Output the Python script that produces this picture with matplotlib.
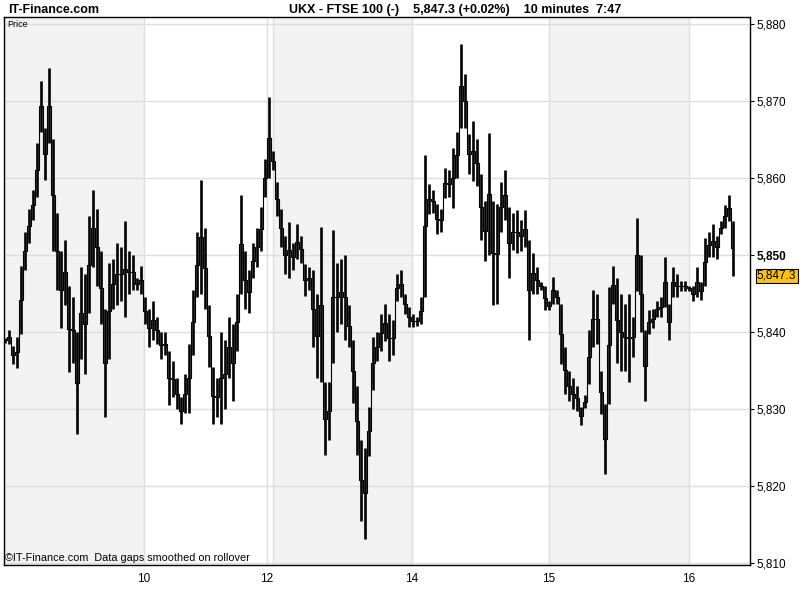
import numpy as np
import matplotlib
matplotlib.use("Agg")
import matplotlib.pyplot as plt
from matplotlib.ticker import FixedLocator

plt.rcParams['font.family'] = ['Liberation Sans', 'DejaVu Sans']

# 10 minute bars, high / low (FTSE 100)
high = [5839.2, 5840.3, 5838.2, 5839.4, 5848.6, 5853.0, 5856.0, 5858.5, 5864.5, 5872.6,
        5866.5, 5874.3, 5865.0, 5855.5, 5850.5, 5852.0, 5846.0, 5844.5, 5840.0, 5848.5,
        5847.5, 5855.0, 5858.5, 5856.0, 5850.5, 5843.0, 5849.0, 5849.5, 5851.5, 5851.0,
        5854.4, 5850.5, 5850.0, 5847.0, 5848.6, 5844.5, 5843.0, 5844.0, 5842.0, 5840.0,
        5840.0, 5837.5, 5836.2, 5834.0, 5831.5, 5834.5, 5838.5, 5845.5, 5853.0, 5859.8,
        5853.5, 5843.5, 5835.5, 5834.0, 5840.0, 5839.0, 5842.0, 5841.0, 5845.0, 5857.8,
        5850.5, 5848.0, 5851.5, 5853.5, 5856.2, 5862.5, 5870.5, 5863.5, 5859.5, 5856.0,
        5852.5, 5854.3, 5851.5, 5854.0, 5852.5, 5848.8, 5848.5, 5848.0, 5845.0, 5853.6,
        5833.5, 5833.5, 5853.2, 5849.0, 5849.5, 5850.0, 5843.5, 5839.0, 5833.0, 5826.0,
        5825.0, 5830.3, 5839.4, 5840.0, 5842.3, 5843.6, 5842.3, 5841.5, 5847.5, 5848.0,
        5845.0, 5843.2, 5842.3, 5842.0, 5844.5, 5863.0, 5859.2, 5858.5, 5856.6, 5856.0,
        5861.3, 5861.0, 5863.9, 5866.0, 5877.4, 5873.5, 5865.7, 5867.4, 5865.0, 5860.5,
        5857.0, 5865.8, 5857.0, 5856.6, 5859.5, 5861.0, 5856.2, 5855.5, 5855.8, 5854.5,
        5855.8, 5851.9, 5850.2, 5848.5, 5846.5, 5846.0, 5844.0, 5847.1, 5845.5, 5843.7,
        5838.1, 5835.0, 5834.0, 5833.0, 5830.3, 5831.8, 5840.2, 5845.4, 5845.0, 5835.0,
        5830.7, 5845.8, 5848.6, 5847.0, 5845.0, 5843.6, 5844.9, 5842.0, 5854.8, 5850.0,
        5840.2, 5842.8, 5843.0, 5844.0, 5844.5, 5849.7, 5843.6, 5848.4, 5847.5, 5846.6,
        5846.6, 5846.0, 5846.0, 5848.4, 5846.5, 5852.2, 5853.0, 5854.0, 5852.5, 5854.4,
        5856.5, 5857.8, 5854.4]
low = [5838.6, 5838.4, 5835.9, 5835.3, 5839.8, 5848.0, 5851.5, 5854.5, 5857.5, 5866.0,
       5859.8, 5864.5, 5850.5, 5845.5, 5840.5, 5843.5, 5834.8, 5836.0, 5826.7, 5836.5,
       5834.5, 5842.5, 5848.5, 5846.0, 5841.0, 5828.9, 5836.5, 5843.0, 5843.5, 5844.0,
       5841.9, 5845.0, 5845.5, 5845.5, 5845.0, 5841.0, 5838.0, 5839.0, 5838.5, 5836.5,
       5837.0, 5830.5, 5831.5, 5830.0, 5828.0, 5829.5, 5829.5, 5837.0, 5844.5, 5845.0,
       5843.0, 5835.5, 5828.0, 5829.0, 5828.0, 5830.0, 5834.0, 5831.0, 5837.5, 5845.0,
       5843.0, 5842.5, 5847.0, 5848.5, 5850.5, 5857.5, 5860.0, 5861.0, 5855.0, 5851.0,
       5847.5, 5847.0, 5848.0, 5849.5, 5849.0, 5844.7, 5845.5, 5838.0, 5834.0, 5833.5,
       5824.0, 5826.0, 5836.0, 5840.0, 5841.0, 5839.0, 5838.0, 5830.8, 5824.0, 5815.5,
       5813.1, 5823.9, 5832.5, 5836.2, 5837.5, 5838.8, 5836.2, 5837.0, 5844.0, 5844.5,
       5842.3, 5840.6, 5840.6, 5840.8, 5841.0, 5844.5, 5855.3, 5855.5, 5852.7, 5853.0,
       5857.4, 5857.5, 5856.1, 5860.0, 5866.5, 5866.5, 5860.5, 5859.6, 5859.0, 5852.0,
       5849.2, 5850.0, 5843.5, 5843.7, 5853.0, 5854.5, 5847.0, 5850.6, 5850.2, 5850.5,
       5851.0, 5838.9, 5845.0, 5845.0, 5845.5, 5842.8, 5842.8, 5843.7, 5843.7, 5835.9,
       5832.0, 5831.0, 5830.0, 5829.8, 5827.9, 5830.1, 5833.3, 5838.0, 5838.5, 5829.4,
       5821.6, 5830.7, 5843.7, 5836.0, 5835.0, 5835.0, 5833.5, 5836.7, 5845.3, 5840.0,
       5831.1, 5839.7, 5840.5, 5841.9, 5842.0, 5843.2, 5838.9, 5844.5, 5844.5, 5845.3,
       5845.3, 5845.3, 5844.0, 5844.5, 5844.2, 5846.0, 5849.7, 5849.7, 5849.5, 5852.7,
       5853.5, 5854.4, 5847.3]

last_price = 5847.3
day_labels = ['10', '12', '14', '15', '16']
day_start_bar = [34.75, 65.5, 101.75, 136, 171]
shaded_days = [(-0.25, 34.75), (67, 101.75), (136, 171)]
price_ticks = [5810, 5820, 5830, 5840, 5850, 5860, 5870, 5880]

fig = plt.figure(figsize=(8, 6), dpi=100)
ax = fig.add_axes([0.005, 0.0583, 0.9325, 0.9134])

x = np.arange(len(high))
hi = np.array(high)
lo = np.array(low)
mid = (hi + lo) / 2
ax.set_xlim(-0.25, 186.25)
ax.set_ylim(5809.74, 5880.91)

for a, b in shaded_days:
    ax.axvspan(a, b, color='#f2f2f2', zorder=0, lw=0)
for t in price_ticks:
    ax.axhline(t, color='#dedede', lw=1, zorder=1)
for d in day_start_bar + [67]:
    ax.axvline(d, color='#dedede', lw=1, zorder=1)

# high-low bars, joined by a thin step line like the original feed chart
ax.vlines(x, lo, hi, color='black', lw=1.9, zorder=3)
ax.step(x, mid, where='mid', color='black', lw=0.8, zorder=3)

ax.yaxis.tick_right()
ax.yaxis.set_major_locator(FixedLocator(price_ticks))
ax.set_yticklabels(['{:,}'.format(p) for p in price_ticks], fontsize=8.5)
for lab in ax.get_yticklabels():
    if lab.get_text() == '5,850':
        lab.set_fontweight('bold')
ax.tick_params(axis='y', direction='out', length=3, pad=2)
ax.set_xticks(day_start_bar)
ax.set_xticklabels(day_labels, fontsize=8.5)
ax.tick_params(axis='x', length=0, pad=6)
for s in ax.spines.values():
    s.set_color('black')
    s.set_linewidth(1)

ax.annotate('{:,.1f}'.format(last_price), xy=(1.0, last_price), xycoords=('axes fraction', 'data'),
            xytext=(5, 0), textcoords='offset points', va='center', ha='left', fontsize=8.5,
            bbox=dict(boxstyle='square,pad=0.1', fc='#ffc20e', ec='black', lw=0.8))

ax.text(0.004, 0.995, 'Price', transform=ax.transAxes, fontsize=6.5, va='top', ha='left')
ax.text(0.002, 0.003, '\u00a9IT-Finance.com  Data gaps smoothed on rollover', transform=ax.transAxes,
        fontsize=7.8, va='bottom', ha='left')

fig.text(0.01, 0.984, 'IT-Finance.com', fontsize=9, fontweight='bold', va='center', ha='left')
fig.text(0.569, 0.984, 'UKX - FTSE 100 (-)    5,847.3 (+0.02%)    10 minutes  7:47',
         fontsize=9, fontweight='bold', va='center', ha='center')

fig.savefig('out.png', dpi=100)
